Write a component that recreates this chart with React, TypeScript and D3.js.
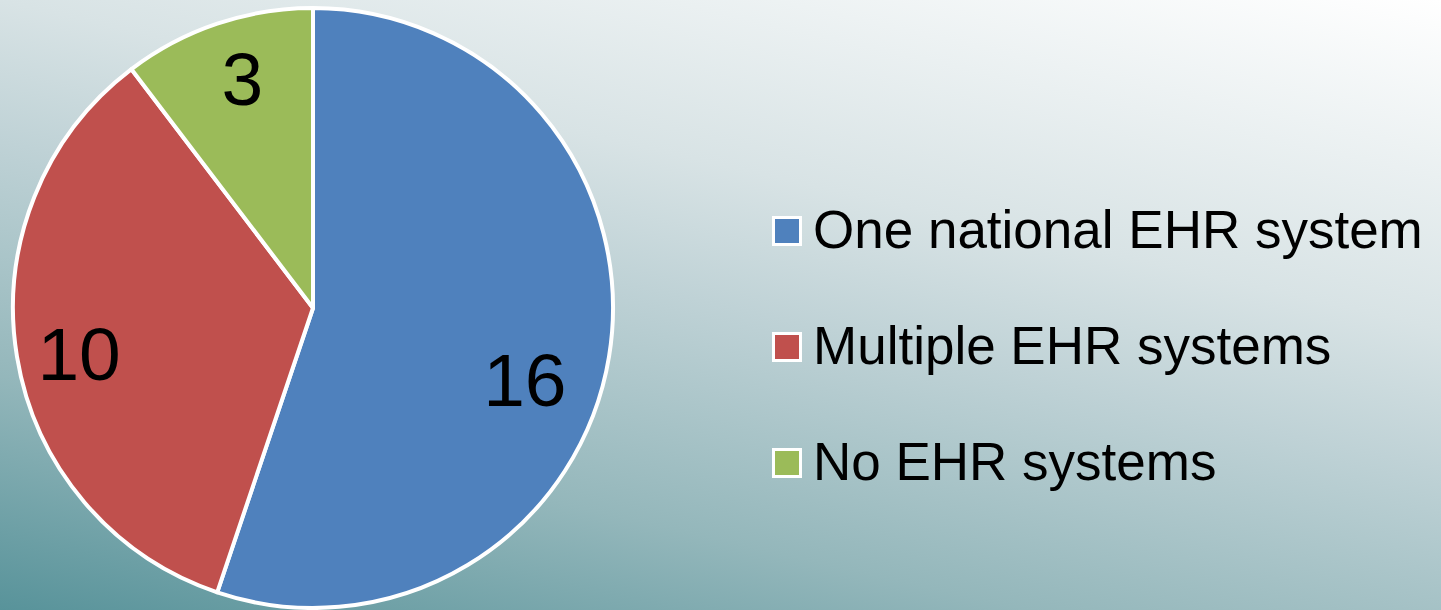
import React from 'react';
import * as d3 from 'd3';

const categories = ['One national EHR system', 'Multiple EHR systems', 'No EHR systems'];
const counts = [16, 10, 3];
const sliceColors = ['#4f81bd', '#c0504d', '#9bbb59'];

const W = 1441;
const H = 610;
const FONT = '"Liberation Sans", Arial, sans-serif';

export default function App() {
  const cx = 313;
  const cy = 308;
  const radius = 300;
  const labelSize = 75;

  const pie = d3.pie<number>().sort(null).value(d => d);
  const arcs = pie(counts);
  const arcGen = d3.arc<d3.PieArcDatum<number>>().innerRadius(0).outerRadius(radius);
  // labels at ~0.79 of the radius; the big slice's label sits a bit lower (best fit)
  const labelArc = d3.arc<d3.PieArcDatum<number>>().innerRadius(radius * 0.79).outerRadius(radius * 0.79);

  const legendY = d3.scalePoint<string>().domain(categories).range([248, 480]);

  return (
    <svg width={W} height={H} style={{ position: 'absolute', left: 0, top: 0 }}>
      <defs>
        <linearGradient id="bg" gradientUnits="userSpaceOnUse" x1={W} y1={0} x2={1238} y2={892}>
          <stop offset="0" stopColor="#ffffff" />
          <stop offset="0.35" stopColor="#d8e3e5" />
          <stop offset="0.5" stopColor="#bfd2d6" />
          <stop offset="0.75" stopColor="#94b7bb" />
          <stop offset="1" stopColor="#58939a" />
        </linearGradient>
      </defs>
      <rect x={0} y={0} width={W} height={H} fill="url(#bg)" />

      <g transform={`translate(${cx},${cy})`}>
        {arcs.map((a, i) => (
          <path key={i} d={arcGen(a) || ''} fill={sliceColors[i]} stroke="#ffffff" strokeWidth={4} strokeLinejoin="round" />
        ))}
        {arcs.map((a, i) => {
          const [lx, ly] = labelArc.centroid(a);
          const nudge = i === 0 ? [-22, 33] : i === 1 ? [0, 7] : [5, -5];
          return (
            <text key={i} x={lx + nudge[0]} y={ly + nudge[1] + 0.358 * labelSize} textAnchor="middle" fontFamily={FONT} fontSize={labelSize} fill="#000">
              {a.data}
            </text>
          );
        })}
      </g>

      <g>
        {categories.map((c, i) => {
          const y = legendY(c) || 0;
          return (
            <g key={c}>
              <rect x={773.5} y={y - 30.5} width={27} height={27} fill={sliceColors[i]} stroke="#ffffff" strokeWidth={3} />
              <text x={813} y={y} fontFamily={FONT} fontSize={53} fill="#000">
                {c}
              </text>
            </g>
          );
        })}
      </g>
    </svg>
  );
}
